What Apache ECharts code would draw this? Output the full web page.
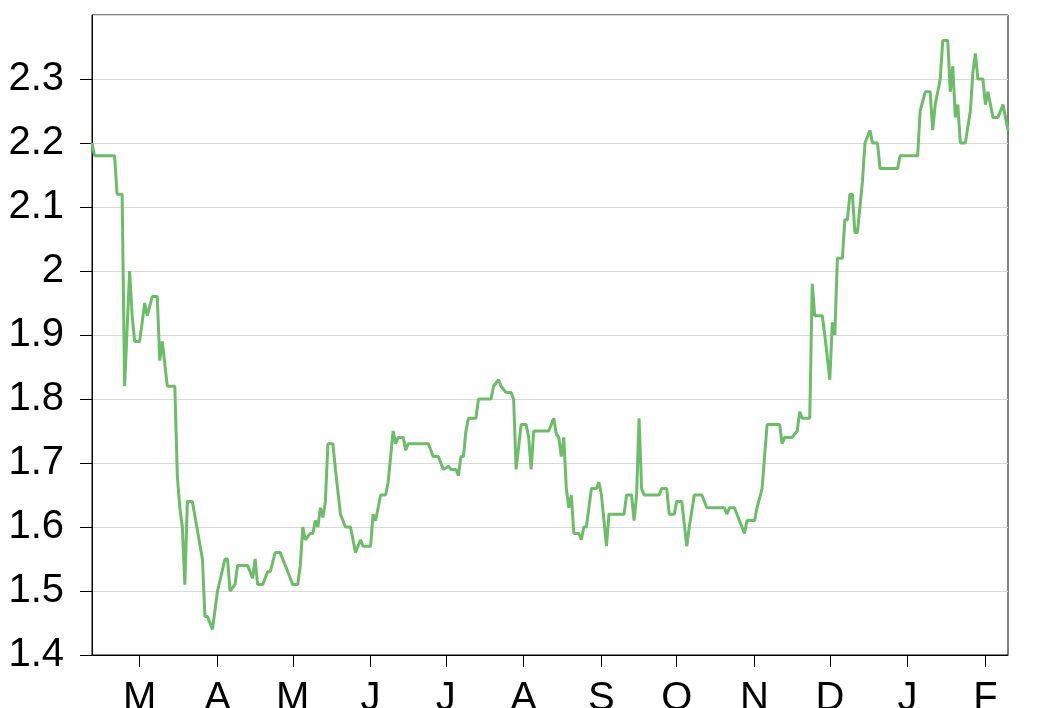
<!DOCTYPE html>
<html><head><meta charset="utf-8">
<script src="https://cdn.jsdelivr.net/npm/echarts@6/dist/echarts.min.js"></script>
<style>html,body{margin:0;padding:0;background:#fff}#c{width:1040px;height:708px}</style>
</head><body><div id="c"></div>
<script>
const startDate = '2022-02-10';
const endDate = '2023-02-10';
const monthLetters = ['J','F','M','A','M','J','J','A','S','O','N','D'];
const yTicks = [1.4, 1.5, 1.6, 1.7, 1.8, 1.9, 2.0, 2.1, 2.2, 2.3, 2.4];

const dates = [
 '2022-02-10','2022-02-11','2022-02-19','2022-02-20','2022-02-22','2022-02-23','2022-02-24','2022-02-25','2022-02-26','2022-02-27',
 '2022-03-01','2022-03-03','2022-03-04','2022-03-06','2022-03-08','2022-03-09','2022-03-10','2022-03-12','2022-03-15','2022-03-16',
 '2022-03-17','2022-03-18','2022-03-19','2022-03-20','2022-03-22','2022-03-26','2022-03-27','2022-03-28','2022-03-29','2022-03-30',
 '2022-04-01','2022-04-04','2022-04-05','2022-04-06','2022-04-08','2022-04-09','2022-04-13','2022-04-15','2022-04-16','2022-04-17',
 '2022-04-19','2022-04-21','2022-04-22','2022-04-24','2022-04-26','2022-04-28','2022-04-29','2022-05-01','2022-05-03','2022-05-04',
 '2022-05-05','2022-05-06','2022-05-08','2022-05-09','2022-05-10','2022-05-11','2022-05-12','2022-05-13','2022-05-14','2022-05-15',
 '2022-05-17','2022-05-18','2022-05-20','2022-05-22','2022-05-24','2022-05-26','2022-05-28','2022-05-29','2022-06-01','2022-06-02',
 '2022-06-03','2022-06-05','2022-06-07','2022-06-08','2022-06-09','2022-06-10','2022-06-11','2022-06-12','2022-06-14','2022-06-15',
 '2022-06-16','2022-06-24','2022-06-26','2022-06-28','2022-06-29','2022-06-30','2022-07-02','2022-07-03','2022-07-05','2022-07-06',
 '2022-07-07','2022-07-08','2022-07-09','2022-07-10','2022-07-13','2022-07-14','2022-07-19','2022-07-20','2022-07-22','2022-07-23',
 '2022-07-25','2022-07-27','2022-07-28','2022-07-29','2022-07-31','2022-08-02','2022-08-03','2022-08-04','2022-08-05','2022-08-11',
 '2022-08-13','2022-08-14','2022-08-15','2022-08-16','2022-08-17','2022-08-18','2022-08-19','2022-08-20','2022-08-21','2022-08-23',
 '2022-08-24','2022-08-25','2022-08-26','2022-08-28','2022-08-30','2022-08-31','2022-09-01','2022-09-03','2022-09-04','2022-09-10',
 '2022-09-11','2022-09-13','2022-09-14','2022-09-15','2022-09-16','2022-09-17','2022-09-18','2022-09-24','2022-09-25','2022-09-27',
 '2022-09-28','2022-09-30','2022-10-01','2022-10-03','2022-10-05','2022-10-06','2022-10-08','2022-10-11','2022-10-13','2022-10-20',
 '2022-10-21','2022-10-22','2022-10-24','2022-10-25','2022-10-28','2022-10-29','2022-11-01','2022-11-02','2022-11-04','2022-11-06',
 '2022-11-11','2022-11-12','2022-11-13','2022-11-16','2022-11-18','2022-11-19','2022-11-20','2022-11-23','2022-11-24','2022-11-25',
 '2022-11-28','2022-11-29','2022-12-01','2022-12-02','2022-12-03','2022-12-04','2022-12-06','2022-12-07','2022-12-08','2022-12-09',
 '2022-12-10','2022-12-11','2022-12-12','2022-12-14','2022-12-15','2022-12-17','2022-12-18','2022-12-20','2022-12-21','2022-12-28',
 '2022-12-29','2023-01-05','2023-01-06','2023-01-08','2023-01-10','2023-01-11','2023-01-12','2023-01-14','2023-01-15','2023-01-17',
 '2023-01-18','2023-01-19','2023-01-20','2023-01-21','2023-01-22','2023-01-24','2023-01-26','2023-01-27','2023-01-28','2023-01-29',
 '2023-01-31','2023-02-01','2023-02-02','2023-02-04','2023-02-06','2023-02-08','2023-02-10'
];
const values = [
 2.20,2.18,2.18,2.12,2.12,1.82,1.91,2.00,1.93,1.89,
 1.89,1.95,1.93,1.96,1.96,1.86,1.89,1.82,1.82,1.68,
 1.63,1.60,1.51,1.64,1.64,1.55,1.46,1.46,1.45,1.44,
 1.50,1.55,1.55,1.50,1.51,1.54,1.54,1.52,1.55,1.51,
 1.51,1.53,1.53,1.56,1.56,1.54,1.53,1.51,1.51,1.54,
 1.60,1.58,1.59,1.59,1.61,1.60,1.63,1.615,1.64,1.73,
 1.73,1.69,1.62,1.60,1.60,1.56,1.58,1.57,1.57,1.62,
 1.61,1.65,1.65,1.67,1.71,1.75,1.73,1.74,1.74,1.72,
 1.73,1.73,1.71,1.71,1.70,1.69,1.695,1.69,1.69,1.68,
 1.71,1.71,1.75,1.77,1.77,1.80,1.80,1.82,1.83,1.82,
 1.81,1.81,1.80,1.69,1.76,1.76,1.74,1.69,1.75,1.75,
 1.77,1.745,1.74,1.71,1.74,1.66,1.63,1.65,1.59,1.59,
 1.58,1.60,1.60,1.66,1.66,1.67,1.65,1.57,1.62,1.62,
 1.65,1.65,1.61,1.65,1.77,1.66,1.65,1.65,1.66,1.66,
 1.62,1.62,1.64,1.64,1.57,1.60,1.65,1.65,1.63,1.63,
 1.62,1.63,1.63,1.62,1.59,1.61,1.61,1.63,1.66,1.76,
 1.76,1.73,1.74,1.74,1.75,1.78,1.77,1.77,1.98,1.93,
 1.93,1.90,1.83,1.92,1.90,2.02,2.02,2.08,2.08,2.12,
 2.12,2.06,2.06,2.14,2.20,2.22,2.20,2.20,2.16,2.16,
 2.18,2.18,2.25,2.28,2.28,2.22,2.26,2.30,2.36,2.36,
 2.28,2.32,2.24,2.26,2.20,2.20,2.25,2.31,2.34,2.30,
 2.30,2.26,2.28,2.24,2.24,2.26,2.22
];

// every calendar day of the period as axis categories
const categories = [];
{
  const d = new Date(startDate + 'T00:00:00Z');
  const e = new Date(endDate + 'T00:00:00Z');
  while (d <= e) { categories.push(d.toISOString().slice(0, 10)); d.setUTCDate(d.getUTCDate() + 1); }
}
const isMonthStart = (idx, val) => val.slice(8, 10) === '01';

const chart = echarts.init(document.getElementById('c'), null, {renderer: 'canvas'});
chart.setOption({
  animation: false,
  backgroundColor: '#fff',
  grid: {left: 92, right: 32, top: 15, bottom: 53, containLabel: false, outerBoundsMode: 'none',
         show: true, borderColor: '#000', borderWidth: 1, backgroundColor: 'transparent'},
  xAxis: {
    type: 'category',
    data: categories,
    boundaryGap: false,
    axisLine: {show: true, lineStyle: {color: '#000', width: 1}},
    axisTick: {show: true, interval: isMonthStart, length: 12, lineStyle: {color: '#000', width: 1}},
    axisLabel: {
      interval: isMonthStart,
      formatter: v => monthLetters[parseInt(v.slice(5, 7), 10) - 1],
      fontFamily: 'Liberation Sans', fontSize: 40, color: '#000', margin: 24
    },
    splitLine: {show: false}
  },
  yAxis: {
    type: 'value',
    min: yTicks[0], max: yTicks[yTicks.length - 1], interval: 0.1,
    axisLine: {show: true, lineStyle: {color: '#000', width: 1}},
    axisTick: {show: true, length: 12, lineStyle: {color: '#000', width: 1}},
    axisLabel: {
      showMaxLabel: false,
      formatter: v => String(Math.round(v * 10) / 10),
      fontFamily: 'Liberation Sans', fontSize: 40, color: '#000', margin: 28
    },
    splitLine: {show: true, lineStyle: {color: '#d9d9d9', width: 1}}
  },
  series: [{
    type: 'line',
    data: dates.map((d, i) => [d, values[i]]),
    symbol: 'none',
    lineStyle: {color: '#6cbd67', width: 3},
    itemStyle: {color: '#6cbd67'}
  }]
});
</script>
</body></html>
